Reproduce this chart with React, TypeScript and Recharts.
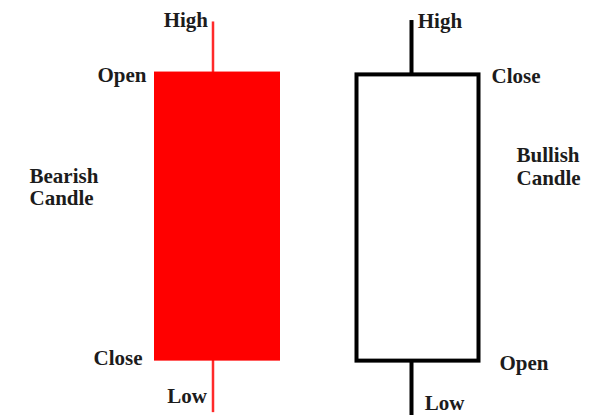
import React from 'react';
import { ComposedChart, Bar, XAxis, YAxis } from 'recharts';

// ---- data ----
const categories = ['Bearish Candle', 'Bullish Candle'];
const openValues = [150, 49];
const closeValues = [49, 149];
const highValues = [167.5, 168];
const lowValues = [31, 30];
const labelHigh = 'High';
const labelLow = 'Low';
const labelOpen = 'Open';
const labelClose = 'Close';

const data = categories.map((name, i) => ({
  name,
  open: openValues[i],
  close: closeValues[i],
  high: highValues[i],
  low: lowValues[i],
  body: [Math.min(openValues[i], closeValues[i]), Math.max(openValues[i], closeValues[i])],
  wick: [lowValues[i], highValues[i]],
}));

// ---- styles ----
const textStyle: React.CSSProperties = {
  fontFamily: '"Liberation Serif", "Times New Roman", serif',
  fontWeight: 'bold',
  fontSize: 21,
  fill: '#1c1c1c',
};

const STYLES: Record<string, any> = {
  bear: {
    bodyFill: '#ff0000',
    bodyStroke: 'none',
    bodyStrokeWidth: 0,
    wickColor: '#ff2a2a',
    wickWidth: 2.5,
    anchor: 'end',
    highDx: -5,
    highDy: 5.5,
    lowDx: -6,
    lowDy: -9,
    topDx: -7.5,
    topDy: 10.5,
    bottomDx: -11.5,
    bottomDy: 4.4,
    nameDx: -124.5,
    nameAnchor: 'start',
    nameDy: [111.5, 133.5],
  },
  bull: {
    bodyFill: '#ffffff',
    bodyStroke: '#000000',
    bodyStrokeWidth: 4,
    wickColor: '#000000',
    wickWidth: 4,
    anchor: 'start',
    highDx: 6.25,
    highDy: 8,
    lowDx: 13.25,
    lowDy: -5,
    topDx: 11,
    topDy: 8.6,
    bottomDx: 19,
    bottomDy: 9.4,
    nameDx: 36,
    nameAnchor: 'start',
    nameDy: [87.6, 110.6],
  },
};

const WickShape = (props: any) => {
  const { x, y, width, height, payload } = props;
  const s = payload.close > payload.open ? STYLES.bull : STYLES.bear;
  const cx = x + width / 2;
  const top = Math.min(y, y + height);
  const bottom = Math.max(y, y + height);
  return (
    <g>
      <rect x={cx - s.wickWidth / 2} y={top} width={s.wickWidth} height={bottom - top} fill={s.wickColor} />
      <text x={cx + s.highDx} y={top + s.highDy} textAnchor={s.anchor} style={textStyle}>
        {labelHigh}
      </text>
      <text x={cx + s.lowDx} y={bottom + s.lowDy} textAnchor={s.anchor} style={textStyle}>
        {labelLow}
      </text>
    </g>
  );
};

const BodyShape = (props: any) => {
  const { x, y, width, height, payload } = props;
  const bull = payload.close > payload.open;
  const s = bull ? STYLES.bull : STYLES.bear;
  const top = Math.min(y, y + height);
  const bottom = Math.max(y, y + height);
  const inset = s.bodyStrokeWidth / 2;
  const edgeX = bull ? x + width : x;
  const topLabel = bull ? labelClose : labelOpen;
  const bottomLabel = bull ? labelOpen : labelClose;
  const nameLines = String(payload.name).split(' ');
  return (
    <g>
      <rect
        x={x + inset}
        y={top}
        width={width - 2 * inset}
        height={bottom - top}
        fill={s.bodyFill}
        stroke={s.bodyStroke}
        strokeWidth={s.bodyStrokeWidth}
      />
      <text x={edgeX + s.topDx} y={top + s.topDy} textAnchor={s.anchor} style={textStyle}>
        {topLabel}
      </text>
      <text x={edgeX + s.bottomDx} y={bottom + s.bottomDy} textAnchor={s.anchor} style={textStyle}>
        {bottomLabel}
      </text>
      {nameLines.map((line, i) => (
        <text key={i} x={edgeX + s.nameDx} y={top + s.nameDy[i]} textAnchor={s.nameAnchor} style={textStyle}>
          {line}
        </text>
      ))}
    </g>
  );
};

export default function App() {
  return (
    <div style={{ position: 'absolute', left: 0, top: 0, width: 594, height: 415, background: '#fff' }}>
      <ComposedChart width={594} height={415} data={data} margin={{ top: 0, right: 76, bottom: 0, left: 117 }}>
        <XAxis xAxisId="wick" dataKey="name" hide padding={{ left: -3, right: 7 }} />
        <XAxis xAxisId="body" dataKey="name" hide />
        <YAxis hide domain={[30, 175]} allowDataOverflow />
        <Bar xAxisId="wick" dataKey="wick" barSize={10} shape={WickShape} isAnimationActive={false} />
        <Bar xAxisId="body" dataKey="body" barSize={126} shape={BodyShape} isAnimationActive={false} />
      </ComposedChart>
    </div>
  );
}
